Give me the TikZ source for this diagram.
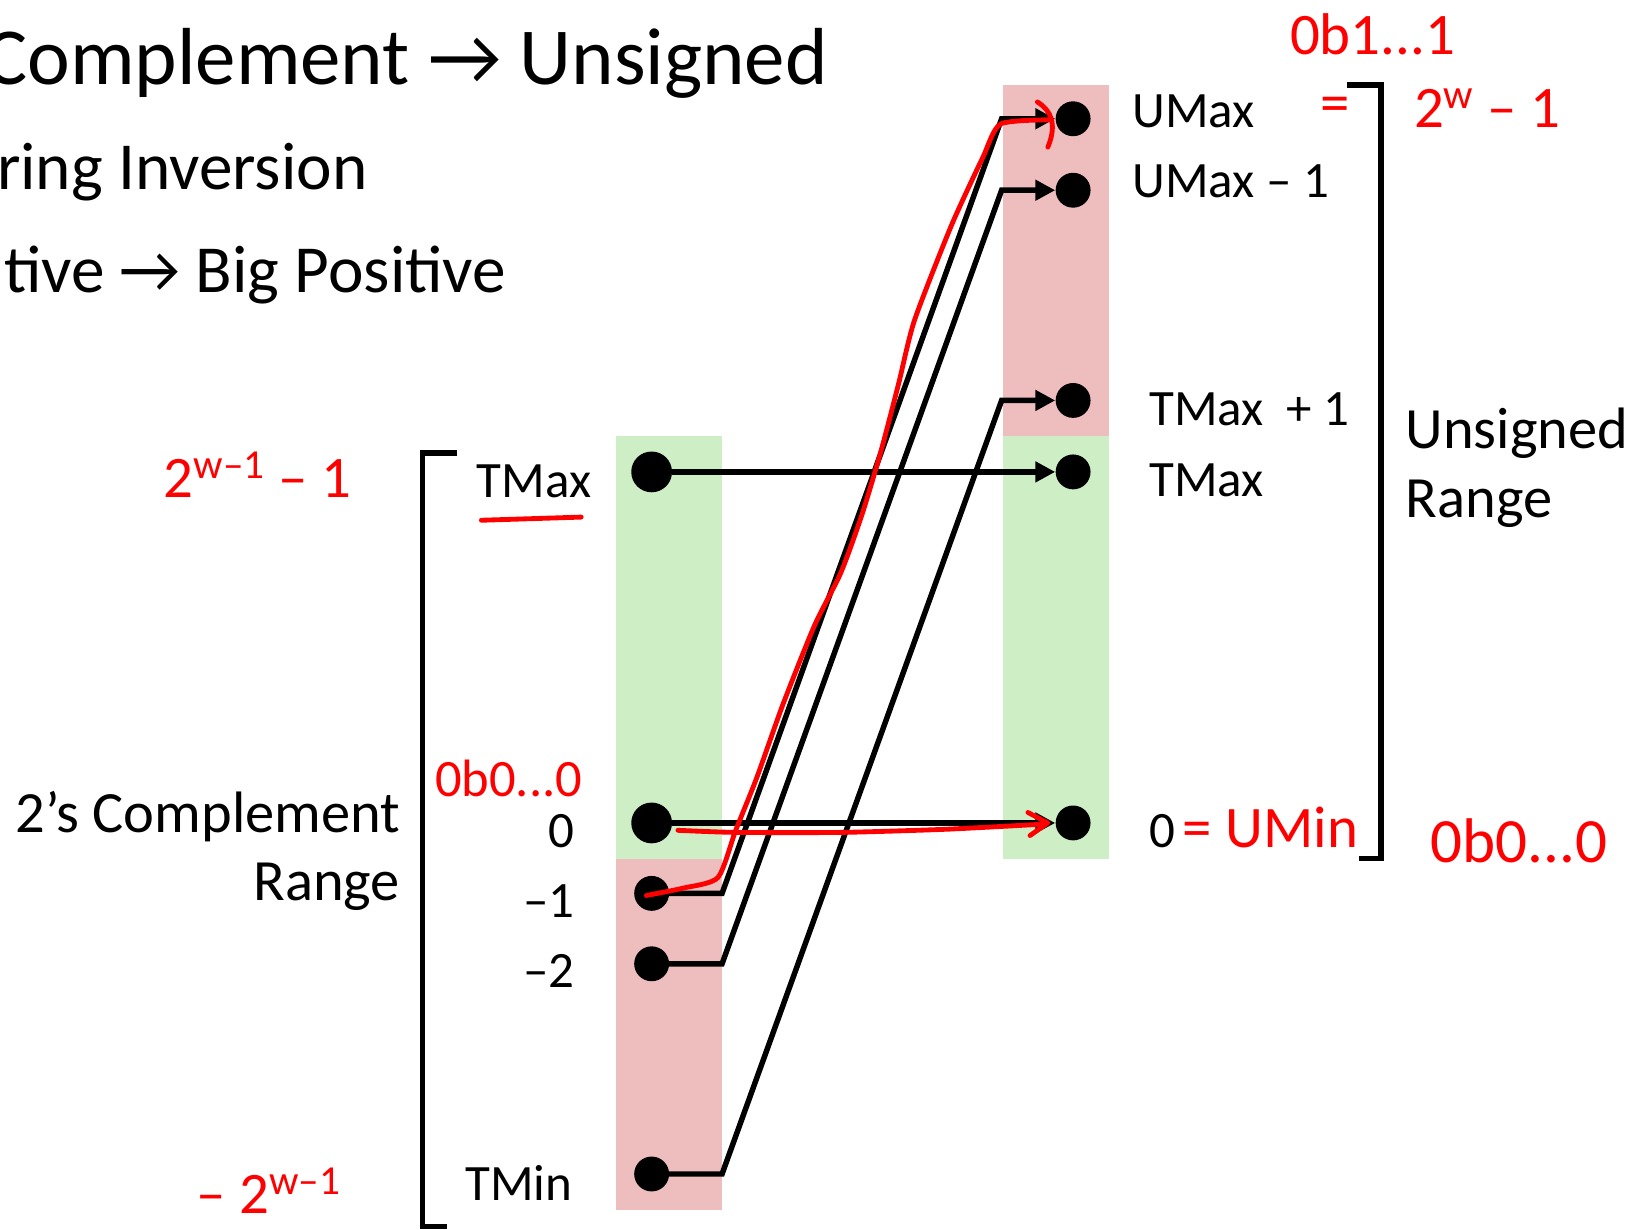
\documentclass[tikz,border=0pt]{standalone}
\usepackage{fontspec}
\setmainfont{Carlito}
\usetikzlibrary{arrows.meta}
\definecolor{pinkbox}{RGB}{238,190,190}
\definecolor{greenbox}{RGB}{206,239,198}
\definecolor{ink}{RGB}{255,0,0}
\tikzset{
 dotbig/.style={circle,fill=black,inner sep=0pt,minimum size=19.4pt},
 dotsmall/.style={circle,fill=black,inner sep=0pt,minimum size=16.6pt},
 conn/.style={line width=2.6pt,line join=miter},
 arr/.style={conn,-{Triangle[length=9.5pt,width=9.5pt]}},
 brack/.style={line width=2.6pt},
 lab/.style={inner sep=0pt,font=\fontsize{24.25pt}{29pt}\selectfont},
 biglab/.style={inner sep=0pt,font=\fontsize{27.8pt}{33pt}\selectfont},
 ttl/.style={inner sep=0pt,font=\fontsize{38.5pt}{46pt}\selectfont},
 bul/.style={inner sep=0pt,font=\fontsize{32pt}{38pt}\selectfont},
 hand/.style={inner sep=0pt,text=ink,font=\fontsize{28pt}{32pt}\selectfont},
 inkline/.style={draw=ink,line width=2.3pt,line cap=round,line join=round},
}
\begin{document}
\begin{tikzpicture}[x=0.5pt,y=-0.5pt]
\useasboundingbox (0,0) rectangle (1568,1170);
% coloured bands
\fill[greenbox] (586,415) rectangle (687,817);
\fill[pinkbox] (586,817) rectangle (687,1151);
\fill[pinkbox] (954,81) rectangle (1055,415);
\fill[greenbox] (954,415) rectangle (1055,817);
% title lines
\node[ttl,anchor=base east] (title) at (788,80) {Complement → Unsigned};
\node[bul,anchor=base east] (b1) at (350,180) {ring Inversion};
\node[bul,anchor=base east] (b2) at (482,278) {tive → Big Positive};
% dots
\node[dotbig] (ltmax) at (620,449) {};
\node[dotbig] (lzero) at (620,783) {};
\node[dotsmall] (lm1) at (620,850) {};
\node[dotsmall] (lm2) at (620,917) {};
\node[dotsmall] (ltmin) at (620,1117) {};
\node[dotsmall] (rumax) at (1021,113) {};
\node[dotsmall] (rumax1) at (1021,181) {};
\node[dotsmall] (rtmax1) at (1021,381) {};
\node[dotsmall] (rtmax) at (1021,449) {};
\node[dotsmall] (rzero) at (1021,783) {};
% bend points
\coordinate (a1) at (687,850); \coordinate (a2) at (953,113);
\coordinate (c1) at (687,917); \coordinate (c2) at (953,181);
\coordinate (d1) at (687,1117); \coordinate (d2) at (953,381);
% connectors
\draw[arr] (ltmax) -- (rtmax);
\draw[arr] (lzero) -- (rzero);
\draw[arr] (lm1.center) -- (a1) -- (a2) -- (rumax);
\draw[arr] (lm2.center) -- (c1) -- (c2) -- (rumax1);
\draw[arr] (ltmin.center) -- (d1) -- (d2) -- (rtmax1);
% brackets
\draw[brack] (435,431) -- (402,431) -- (402,1167) -- (425,1167);
\draw[brack] (1282,81) -- (1314,81) -- (1314,817) -- (1293,817);
% labels left
\node[lab,anchor=base east] (lt1) at (563,473) {TMax};
\node[lab,anchor=base east] (lt2) at (547,806) {0};
\node[lab,anchor=base east] (lt3) at (547,873) {–1};
\node[lab,anchor=base east] (lt4) at (547,940) {–2};
\node[lab,anchor=base east] (lt5) at (545,1142) {TMin};
\node[biglab,anchor=base east] (lt6) at (381,792) {2’s Complement};
\node[biglab,anchor=base east] (lt7) at (381,857) {Range};
% labels right
\node[lab,anchor=base west] (rt1) at (1077,121) {UMax};
\node[lab,anchor=base west] (rt2) at (1077,188) {UMax – 1};
\node[lab,anchor=base west] (rt3) at (1093,405) {TMax\hspace{0.45em}+ 1};
\node[lab,anchor=base west] (rt4) at (1093,472) {TMax};
\node[lab,anchor=base west] (rt5) at (1093,806) {0};
\node[biglab,anchor=base west] (rt6) at (1337,427) {Unsigned};
\node[biglab,anchor=base west] (rt7) at (1337,492) {Range};
% red handwriting
\node[hand] (h1) at (1306,33) {0b1...1};
\node[hand] (h2) at (1415,103) {2\textsuperscript{w} – 1};
\node[hand] (h3) at (1270,105) {=};
\node[hand] (h4) at (245,452) {2\textsuperscript{w–1} – 1};
\node[hand,font=\fontsize{25pt}{30pt}\selectfont] (h5) at (484,741) {0b0...0};
\node[hand,anchor=base west] (h6) at (1125,806) {= UMin};
\node[hand,font=\fontsize{30pt}{36pt}\selectfont] (h7) at (1445,800) {0b0...0};
\node[hand] (h8) at (256,1133) {– 2\textsuperscript{w–1}};
\draw[inkline] (458,495) -- (553,492);
\draw[inkline] plot[smooth,tension=0.4] coordinates {(615,852) (650,845) (683,835) (700,790) (720,740) (745,670) (775,595) (800,545) (820,490) (838,430) (855,365) (870,305) (905,215) (935,150) (952,118) (1000,114)};
\draw[inkline] (987,97) .. controls (1000,105) and (1006,118) .. (997,140);
\draw[inkline] plot[smooth,tension=0.4] coordinates {(645,790) (700,792) (800,792) (900,789) (995,784)};
\draw[inkline] (978,773) -- (997,783) -- (980,795);
\end{tikzpicture}
\end{document}
